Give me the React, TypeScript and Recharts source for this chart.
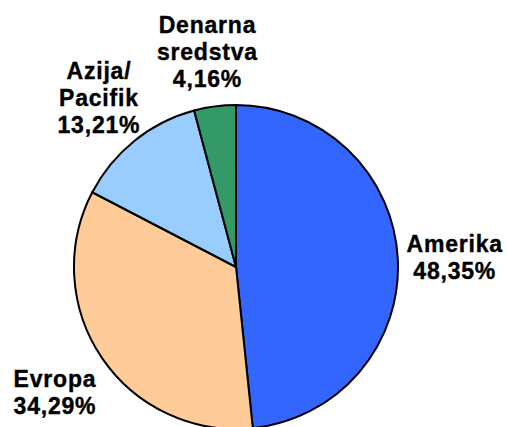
import { Cell, Pie, PieChart } from "recharts";

const categories = ["Amerika", "Evropa", "Azija/ Pacifik", "Denarna sredstva"];
const shares = [48.35, 34.29, 13.21, 4.16];
// how each category name breaks onto lines in the label
const nameLines = [["Amerika"], ["Evropa"], ["Azija/", "Pacifik"], ["Denarna", "sredstva"]];
const colors = ["#3366FF", "#FFCC99", "#99CCFF", "#339966"];

const data = categories.map((name, i) => ({ name, value: shares[i] }));

const RADIAN = Math.PI / 180;
const LINE_HEIGHT = 27;

function renderLabel(props: any) {
  const { cx, cy, midAngle, outerRadius, index } = props;
  const r = outerRadius + 57;
  const x = cx + r * Math.cos(-midAngle * RADIAN);
  const y = cy + r * Math.sin(-midAngle * RADIAN);
  const lines = [...nameLines[index], shares[index].toFixed(2).replace(".", ",") + "%"];
  const firstBaseline = y - ((lines.length - 1) * LINE_HEIGHT) / 2 + 10;
  return (
    <text
      x={x}
      y={firstBaseline}
      textAnchor="middle"
      fill="#000"
      stroke="#000"
      strokeWidth={0.4}
      letterSpacing={0.8}
      fontFamily="'Liberation Sans', Arial, sans-serif"
      fontWeight="bold"
      fontSize={23}
    >
      {lines.map((line, i) => (
        <tspan key={i} x={x} y={firstBaseline + i * LINE_HEIGHT}>
          {line}
        </tspan>
      ))}
    </text>
  );
}

export default function App() {
  return (
    <div style={{ position: "absolute", left: 0, top: 0, width: 507, height: 427, background: "#fff" }}>
      <PieChart width={507} height={427} margin={{ top: 0, right: 0, bottom: 0, left: 0 }}>
        <Pie
          data={data}
          dataKey="value"
          nameKey="name"
          cx={236}
          cy={267}
          outerRadius={162}
          startAngle={90}
          endAngle={-270}
          stroke="#000"
          strokeWidth={2}
          label={renderLabel}
          labelLine={false}
          isAnimationActive={false}
        >
          {data.map((entry, i) => (
            <Cell key={entry.name} fill={colors[i]} />
          ))}
        </Pie>
      </PieChart>
    </div>
  );
}
